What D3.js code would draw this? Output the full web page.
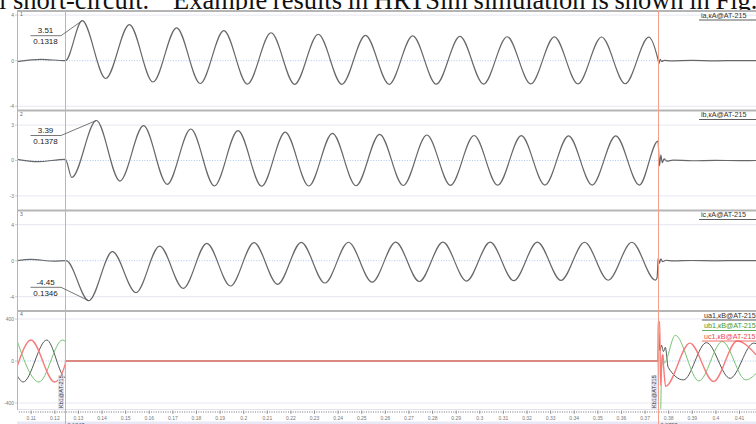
<!DOCTYPE html>
<html>
<head>
<meta charset="utf-8">
<script src="https://cdn.jsdelivr.net/npm/d3@7"></script>
<style>
  body { margin: 0; background: #fff; overflow: hidden; }
  svg { display: block; }
</style>
</head>
<body>
<svg width="756" height="424"></svg>
<script>
// caption line of the page, cut off by the crop (justified, so two pieces)
const captionA = "l short-circuit."
const captionB = "Example results in HRTSim simulation is shown in Fig."

// time axis labels (s)
const xTicks = [0.11, 0.12, 0.13, 0.14, 0.15, 0.16, 0.17, 0.18, 0.19, 0.2, 0.21, 0.22, 0.23, 0.24, 0.25,
  0.26, 0.27, 0.28, 0.29, 0.3, 0.31, 0.32, 0.33, 0.34, 0.35, 0.36, 0.37, 0.38, 0.39, 0.4, 0.41]

// fault / clearing instants
const markers = [0.1247, 0.3757]
const markerName = "Kb1@AT-215"

// phase currents, kA  [time, value] at turning points
const ia = [
  [0.1042, -0.08], [0.1145, 0.12], [0.1247, 0.0],
  [0.1318, 3.51], [0.1418, -1.56], [0.1518, 3.17], [0.1618, -1.87], [0.1718, 2.88], [0.1818, -2.0],
  [0.1918, 2.64], [0.2018, -2.05], [0.2118, 2.45], [0.2218, -2.07], [0.2318, 2.32], [0.2418, -2.07],
  [0.2518, 2.23], [0.2618, -2.07], [0.2718, 2.17], [0.2818, -2.06], [0.2918, 2.13], [0.3018, -2.05],
  [0.3118, 2.1], [0.3218, -2.04], [0.3318, 2.09], [0.3418, -2.03], [0.3518, 2.08], [0.3618, -2.02],
  [0.3718, 2.07], [0.3757, 0.1], [0.3761, -0.25], [0.3766, 0.12], [0.3772, -0.06], [0.3785, 0.03],
  [0.381, -0.02], [0.39, 0.02], [0.4, -0.01], [0.41, 0.01], [0.4172, 0]
]
const ib = [
  [0.1042, 0.1], [0.113, -0.1], [0.1247, 0.1],
  [0.1274, -1.44], [0.1378, 3.39], [0.1478, -1.74], [0.1578, 2.95], [0.1678, -2.02], [0.1778, 2.67],
  [0.1878, -2.16], [0.1978, 2.53], [0.2078, -2.18], [0.2178, 2.4], [0.2278, -2.16], [0.2378, 2.3],
  [0.2478, -2.14], [0.2578, 2.22], [0.2678, -2.12], [0.2778, 2.16], [0.2878, -2.1], [0.2978, 2.12],
  [0.3078, -2.09], [0.3178, 2.1], [0.3278, -2.08], [0.3378, 2.09], [0.3478, -2.08], [0.3578, 2.09],
  [0.3678, -2.08], [0.3757, 1.65], [0.3763, -0.45], [0.3769, 0.45], [0.3775, -0.18], [0.3783, 0.14],
  [0.3795, -0.06], [0.382, 0.03], [0.39, -0.02], [0.4, 0.01], [0.41, -0.01], [0.4172, 0]
]
const ic = [
  [0.1042, 0.0], [0.11, 0.15], [0.12, -0.05], [0.125, 0.0],
  [0.1346, -4.45], [0.1446, 1.0], [0.1546, -3.55], [0.1646, 1.63], [0.1746, -3.07], [0.1846, 1.93],
  [0.1946, -2.81], [0.2046, 2.0], [0.2146, -2.62], [0.2246, 2.04], [0.2346, -2.48], [0.2446, 2.05],
  [0.2546, -2.38], [0.2646, 2.06], [0.2746, -2.31], [0.2846, 2.06], [0.2946, -2.26], [0.3046, 2.06],
  [0.3146, -2.22], [0.3246, 2.06], [0.3346, -2.19], [0.3446, 2.05], [0.3546, -2.17], [0.3646, 2.05],
  [0.3746, -2.15], [0.3753, -1.9], [0.3758, 0.35], [0.3763, -0.3], [0.3769, 0.2], [0.3776, -0.1],
  [0.379, 0.05], [0.382, -0.02], [0.39, 0.02], [0.4, -0.01], [0.41, 0.01], [0.4172, 0]
]

// phase voltages, kV
const ua = [
  [0.1042, -137], [0.1068, -200], [0.1168, 200], [0.1247, -158], [0.12475, 0],
  [0.3757, 0], [0.376, 265], [0.3765, 100], [0.3772, 150], [0.378, 90], [0.3788, 130], [0.38, -60],
  [0.3865, -180], [0.3962, 175], [0.4062, -165], [0.4162, 170], [0.4172, 165]
]
const ub = [
  [0.1042, 195], [0.1135, -200], [0.1235, 200], [0.1247, 186], [0.12475, 0],
  [0.3757, 0], [0.3759, -470], [0.3768, -470], [0.3772, -60], [0.3778, 60], [0.3783, -20],
  [0.383, 245], [0.393, -190], [0.4029, 185], [0.4129, -180], [0.4172, -120]
]
const uc = [
  [0.1042, -56], [0.1101, 200], [0.1201, -200], [0.1247, -25], [0.12475, 0],
  [0.3757, 0], [0.37575, 375], [0.3764, 375], [0.3768, -230], [0.3775, 60], [0.3789, -240],
  [0.3892, 170], [0.3992, -195], [0.4092, 190], [0.4172, 60]
]

// peak readouts shown on the current traces
const readouts = [
  { panel: 0, t: 0.1318, v: 3.51 },
  { panel: 1, t: 0.1378, v: 3.39 },
  { panel: 2, t: 0.1346, v: -4.45 }
]

const svg = d3.select("svg")
const left = 17, right = 756

const serif = "Liberation Serif, 'Times New Roman', serif"
svg.append("text")
  .attr("x", -1).attr("y", 8.5)
  .attr("font-family", serif).attr("font-size", 26.5)
  .attr("fill", "#111")
  .text(captionA)
svg.append("text")
  .attr("x", 173).attr("y", 8.5)
  .attr("font-family", serif).attr("font-size", 26.5)
  .attr("word-spacing", -1)
  .attr("fill", "#111")
  .text(captionB)

const x = d3.scaleLinear().domain([0.1042, 0.4172]).range([left, right])

const panels = [
  { top: 11, bottom: 109.5, zero: 60.7, k: 11.4, ticks: [4, 0, -4],
    series: [{ d: ia, c: "#686868", w: 1.2 }], legend: [{ t: "ia,кA@AT-215", c: "#333" }] },
  { top: 110.5, bottom: 209.5, zero: 160.5, k: 11.8, ticks: [3, 0, -3],
    series: [{ d: ib, c: "#686868", w: 1.2 }], legend: [{ t: "ib,кA@AT-215", c: "#333" }] },
  { top: 210.5, bottom: 309.5, zero: 260.7, k: 9.0, ticks: [4, 0, -4],
    series: [{ d: ic, c: "#686868", w: 1.2 }], legend: [{ t: "ic,кA@AT-215", c: "#333" }] },
  { top: 311, bottom: 409, zero: 361, k: 0.105, ticks: [400, 0, -400],
    series: [{ d: ua, c: "#555", w: 1.0 }, { d: ub, c: "#74c474", w: 1.0 }, { d: uc, c: "#f67c7c", w: 1.4 }],
    legend: [{ t: "ua1,кB@AT-215", c: "#333" }, { t: "ub1,кB@AT-215", c: "#3a9a3a" }, { t: "uc1,кB@AT-215", c: "#f04848" }] }
]

const line = d3.line().curve(d3.curveMonotoneX)

panels.forEach((p, i) => {
  const y = d3.scaleLinear().domain([-1, 1]).range([p.zero + p.k, p.zero - p.k])
  p.y = y
  const g = svg.append("g")

  g.append("rect").attr("x", left).attr("y", p.top).attr("width", right - left).attr("height", p.bottom - p.top)
    .attr("fill", "#fff")

  // faint grid and dotted zero
  p.ticks.forEach(v => {
    g.append("line")
      .attr("x1", left).attr("x2", right).attr("y1", y(v)).attr("y2", y(v))
      .attr("stroke", v === 0 ? "#a9c9ee" : "#e6e6f2")
      .attr("stroke-width", 1)
      .attr("stroke-dasharray", v === 0 ? "1,1.6" : null)
    g.append("text")
      .attr("x", left - 3).attr("y", y(v) + 1.8)
      .attr("text-anchor", "end")
      .attr("font-family", "Arial, sans-serif").attr("font-size", 5)
      .attr("fill", "#777")
      .text(v)
    g.append("line").attr("x1", left - 2).attr("x2", left).attr("y1", y(v)).attr("y2", y(v))
      .attr("stroke", "#aaa").attr("stroke-width", 0.6)
  })

  const clipId = "clip" + i
  svg.append("clipPath").attr("id", clipId).append("rect")
    .attr("x", left).attr("y", p.top + 1).attr("width", right - left).attr("height", p.bottom - p.top - 1)

  p.series.forEach(s => {
    g.append("path")
      .attr("clip-path", "url(#" + clipId + ")")
      .attr("d", line(s.d.map(d => [x(d[0]), y(d[1])])))
      .attr("fill", "none")
      .attr("stroke", s.c)
      .attr("stroke-width", s.w)
  })

  // panel frame line on top
  g.append("line").attr("x1", left).attr("x2", right).attr("y1", p.top).attr("y2", p.top)
    .attr("stroke", "#b5b5b5").attr("stroke-width", 1.8)

  g.append("text")
    .attr("x", left + 3).attr("y", p.top + 5)
    .attr("font-family", "Arial, sans-serif").attr("font-size", 5)
    .attr("fill", "#666")
    .text(i + 1)

  // trace names, top right
  p.legend.forEach((l, j) => {
    const ly = p.top + 6.5 + j * 10.5
    const lx = i === 3 ? 704 : 701
    g.append("text")
      .attr("x", lx).attr("y", ly)
      .attr("font-family", "Arial, sans-serif").attr("font-size", 7.2)
      .attr("fill", l.c)
      .text(l.t)
    g.append("line").attr("x1", lx - 2).attr("x2", right).attr("y1", ly + 2.5).attr("y2", ly + 2.5)
      .attr("stroke", l.c).attr("stroke-width", 0.8)
  })
})

// bottom frame and left border
svg.append("line").attr("x1", left).attr("x2", right).attr("y1", 409.5).attr("y2", 409.5)
  .attr("stroke", "#e2e2ee").attr("stroke-width", 1)
svg.append("line").attr("x1", left + 0.5).attr("x2", left + 0.5).attr("y1", 10).attr("y2", 410)
  .attr("stroke", "#b5b5b5").attr("stroke-width", 1)

// time axis
const minor = d3.range(105, 418).map(v => v / 1000)
svg.append("g")
  .attr("transform", "translate(0,411)")
  .call(d3.axisBottom(x).tickValues(minor).tickSize(2).tickFormat(""))
  .call(a => a.select(".domain").remove())
  .call(a => a.selectAll("line").attr("stroke", "#888").attr("stroke-width", 0.6))
svg.append("g")
  .attr("transform", "translate(0,410.5)")
  .call(d3.axisBottom(x).tickValues(xTicks).tickSize(3.5).tickPadding(2).tickFormat(d3.format(".2~f")))
  .call(a => a.select(".domain").remove())
  .call(a => a.selectAll("line").attr("stroke", "#777").attr("stroke-width", 0.7))
  .call(a => a.selectAll("text").attr("font-size", 5).attr("fill", "#777").attr("font-family", "Arial, sans-serif"))

svg.append("rect").attr("x", left).attr("y", 421.5).attr("width", right - left).attr("height", 3)
  .attr("fill", "#e8e8f6")

// fault markers, snapped to the pixel grid so they stay crisp
markers.forEach(t => {
  const mx = Math.round(x(t)) + 0.5
  svg.append("line")
    .attr("x1", mx).attr("x2", mx).attr("y1", 10).attr("y2", 424)
    .attr("stroke", "#f5a08c").attr("stroke-width", 1)
  svg.append("rect")
    .attr("x", mx - 7.5).attr("y", 375).attr("width", 6).attr("height", 34)
    .attr("fill", "#e6e6f4")
  svg.append("text")
    .attr("transform", "translate(" + (mx - 2.7) + ",408) rotate(-90)")
    .attr("font-family", "Arial, sans-serif").attr("font-size", 5.5)
    .attr("fill", "#333")
    .text(markerName)
  svg.append("text")
    .attr("x", mx + 2).attr("y", 426.5)
    .attr("font-family", "Arial, sans-serif").attr("font-size", 5.5)
    .attr("fill", "#555")
    .text(t)
})

// peak readouts with leader lines
readouts.forEach(r => {
  const p = panels[r.panel]
  const ly = r.v > 0 ? p.zero - 25 : p.zero + 26.6
  const px = x(r.t), py = p.y(r.v)
  svg.append("path")
    .attr("d", "M30.5," + ly + "H61L" + px + "," + py)
    .attr("fill", "none").attr("stroke", "#555").attr("stroke-width", 0.8)
  svg.append("text")
    .attr("x", 45.5).attr("y", ly - 2.5)
    .attr("text-anchor", "middle")
    .attr("font-family", "Arial, sans-serif").attr("font-size", 8)
    .attr("fill", "#222")
    .text(r.v)
  svg.append("text")
    .attr("x", 45.5).attr("y", ly + 8.5)
    .attr("text-anchor", "middle")
    .attr("font-family", "Arial, sans-serif").attr("font-size", 8)
    .attr("fill", "#222")
    .text(r.t)
})
</script>
</body>
</html>
